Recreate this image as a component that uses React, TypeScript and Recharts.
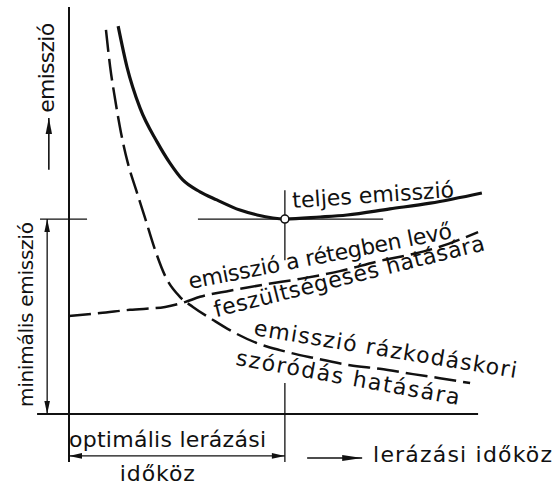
import { LineChart, Line, XAxis, YAxis, ReferenceLine, ReferenceDot } from 'recharts'

// curves (x: shaking interval, y: emission, both 0..10)
const total = [
  { x: 1.17, y: 9.53 }, { x: 1.38, y: 8.53 }, { x: 1.69, y: 7.52 }, { x: 2.1, y: 6.68 },
  { x: 2.4, y: 6.17 }, { x: 2.71, y: 5.75 }, { x: 3.12, y: 5.46 }, { x: 3.52, y: 5.26 },
  { x: 4.07, y: 5.01 }, { x: 4.48, y: 4.89 }, { x: 5.14, y: 4.79 }, { x: 5.98, y: 4.84 },
  { x: 6.62, y: 4.89 }, { x: 7.64, y: 5.04 }, { x: 8.6, y: 5.18 }, { x: 9.83, y: 5.43 },
]

const vibration = [
  { x: 0.88, y: 9.44 }, { x: 0.98, y: 8.53 }, { x: 1.1, y: 7.72 }, { x: 1.24, y: 6.9 },
  { x: 1.4, y: 6.17 }, { x: 1.6, y: 5.5 }, { x: 1.81, y: 4.82 }, { x: 2.05, y: 4.03 },
  { x: 2.29, y: 3.39 }, { x: 2.64, y: 2.88 }, { x: 2.95, y: 2.63 }, { x: 3.43, y: 2.31 },
  { x: 3.83, y: 2.06 }, { x: 4.48, y: 1.74 }, { x: 5.02, y: 1.57 }, { x: 5.81, y: 1.38 },
  { x: 6.69, y: 1.2 }, { x: 7.4, y: 1.11 }, { x: 8.19, y: 0.98 }, { x: 8.83, y: 0.88 },
  { x: 9.55, y: 0.76 },
]

const voltage = [
  { x: 0, y: 2.41 }, { x: 0.74, y: 2.48 }, { x: 1.45, y: 2.56 }, { x: 2.29, y: 2.63 },
  { x: 2.76, y: 2.75 }, { x: 3.12, y: 2.88 }, { x: 3.83, y: 3.03 }, { x: 4.71, y: 3.19 },
  { x: 5.5, y: 3.32 }, { x: 6.45, y: 3.51 }, { x: 7.4, y: 3.76 }, { x: 8.19, y: 3.93 },
  { x: 8.83, y: 4.11 }, { x: 9.31, y: 4.29 }, { x: 9.74, y: 4.47 },
]

const optimum = 5.14
const minimum = 4.79

const labels = [
  { text: 'emisszió', x: -0.36, y: 7.4, angle: -90, length: 90, size: 22 },
  { text: 'minimális emisszió', x: -0.86, y: 0.17, angle: -90, length: 185, size: 20 },
  { text: 'teljes emisszió', x: 5.33, y: 5.06, angle: -3.9, length: 162, size: 22 },
  { text: 'emisszió a rétegben levő', x: 2.88, y: 3.07, angle: -11, length: 268, size: 22 },
  { text: 'feszültségesés hatására', x: 3.5, y: 2.38, angle: -14, length: 278, size: 22 },
  { text: 'emisszió rázkodáskori', x: 4.38, y: 1.94, angle: 9.3, length: 266, size: 22 },
  { text: 'szóródás hatására', x: 3.95, y: 1.21, angle: 10.2, length: 227, size: 22 },
  { text: 'optimális lerázási', x: 0, y: -0.81, angle: 0, length: 197, size: 22 },
  { text: 'időköz', x: 1.21, y: -1.65, angle: 0, length: 75, size: 22 },
  { text: 'lerázási időköz', x: 7.24, y: -1.18, angle: 0, length: 179, size: 22 },
]

const ink = '#111'
const font = '"DejaVu Sans", sans-serif'

function arrow(head: 'start' | 'end' | 'both' | 'none', width = 1.4, len = 13, half = 2.8) {
  return (p: any) => {
    const { x1, y1, x2, y2 } = p
    const d = Math.hypot(x2 - x1, y2 - y1) || 1
    const ux = (x2 - x1) / d
    const uy = (y2 - y1) / d
    const tri = (tx: number, ty: number, sx: number, sy: number) => {
      const bx = tx - sx * len
      const by = ty - sy * len
      return `${tx},${ty} ${bx - sy * half},${by + sx * half} ${bx + sy * half},${by - sx * half}`
    }
    return (
      <g>
        <line x1={x1} y1={y1} x2={x2} y2={y2} stroke={ink} strokeWidth={width} />
        {(head === 'start' || head === 'both') && <polygon points={tri(x1, y1, -ux, -uy)} fill={ink} />}
        {(head === 'end' || head === 'both') && <polygon points={tri(x2, y2, ux, uy)} fill={ink} />}
      </g>
    )
  }
}

function note(text: string, angle: number, length: number, size: number) {
  return (p: any) => (
    <text
      x={p.cx}
      y={p.cy}
      transform={`rotate(${angle} ${p.cx} ${p.cy})`}
      fontSize={size}
      fontFamily={font}
      fill={ink}
      textLength={length}
      lengthAdjust="spacing"
    >
      {text}
    </text>
  )
}

export default function App() {
  return (
    <div style={{ position: 'absolute', left: 0, top: 0, background: '#fff' }}>
      <LineChart width={559} height={488} margin={{ top: 7, right: 70, bottom: 74, left: 69 }}>
        <XAxis type="number" dataKey="x" domain={[0, 10]} hide />
        <YAxis type="number" dataKey="y" domain={[0, 10]} hide />

        <ReferenceLine segment={[{ x: 0, y: 10 }, { x: 0, y: -1.18 }]} ifOverflow="visible" shape={arrow('none', 2)} />
        <ReferenceLine segment={[{ x: -0.76, y: 0 }, { x: 9.74, y: 0 }]} ifOverflow="visible" shape={arrow('none', 2)} />
        <ReferenceLine segment={[{ x: -0.69, y: minimum }, { x: 0.43, y: minimum }]} ifOverflow="visible" shape={arrow('none', 1.3)} />
        <ReferenceLine segment={[{ x: 3.07, y: minimum }, { x: 7.48, y: minimum }]} ifOverflow="visible" shape={arrow('none', 1.3)} />
        <ReferenceLine segment={[{ x: optimum, y: 5.5 }, { x: optimum, y: 3.78 }]} ifOverflow="visible" shape={arrow('none', 1.3)} />
        <ReferenceLine segment={[{ x: optimum, y: 0.76 }, { x: optimum, y: -1.18 }]} ifOverflow="visible" shape={arrow('none', 1.3)} />
        <ReferenceLine segment={[{ x: -0.52, y: minimum }, { x: -0.52, y: 0 }]} ifOverflow="visible" shape={arrow('both', 1.3)} />
        <ReferenceLine segment={[{ x: 0, y: -1.03 }, { x: optimum, y: -1.03 }]} ifOverflow="visible" shape={arrow('both', 1.3)} />
        <ReferenceLine segment={[{ x: -0.48, y: 6.0 }, { x: -0.48, y: 7.27 }]} ifOverflow="visible" shape={arrow('end', 1.6, 16, 3.2)} />
        <ReferenceLine segment={[{ x: 5.67, y: -1.08 }, { x: 6.98, y: -1.08 }]} ifOverflow="visible" shape={arrow('end', 1.6, 20, 3)} />

        <Line data={total} dataKey="y" type="monotone" stroke={ink} strokeWidth={3.2} dot={false} activeDot={false} isAnimationActive={false} />
        <Line data={vibration} dataKey="y" type="monotone" stroke={ink} strokeWidth={2.5} strokeDasharray="22 7" dot={false} activeDot={false} isAnimationActive={false} />
        <Line data={voltage} dataKey="y" type="monotone" stroke={ink} strokeWidth={2.5} strokeDasharray="22 7" dot={false} activeDot={false} isAnimationActive={false} />

        <ReferenceDot x={optimum} y={minimum} r={4} fill="#fff" stroke={ink} strokeWidth={1.6} ifOverflow="visible" />

        {labels.map((l) => (
          <ReferenceDot key={l.text} x={l.x} y={l.y} r={1} ifOverflow="visible" shape={note(l.text, l.angle, l.length, l.size)} />
        ))}
      </LineChart>
    </div>
  )
}
